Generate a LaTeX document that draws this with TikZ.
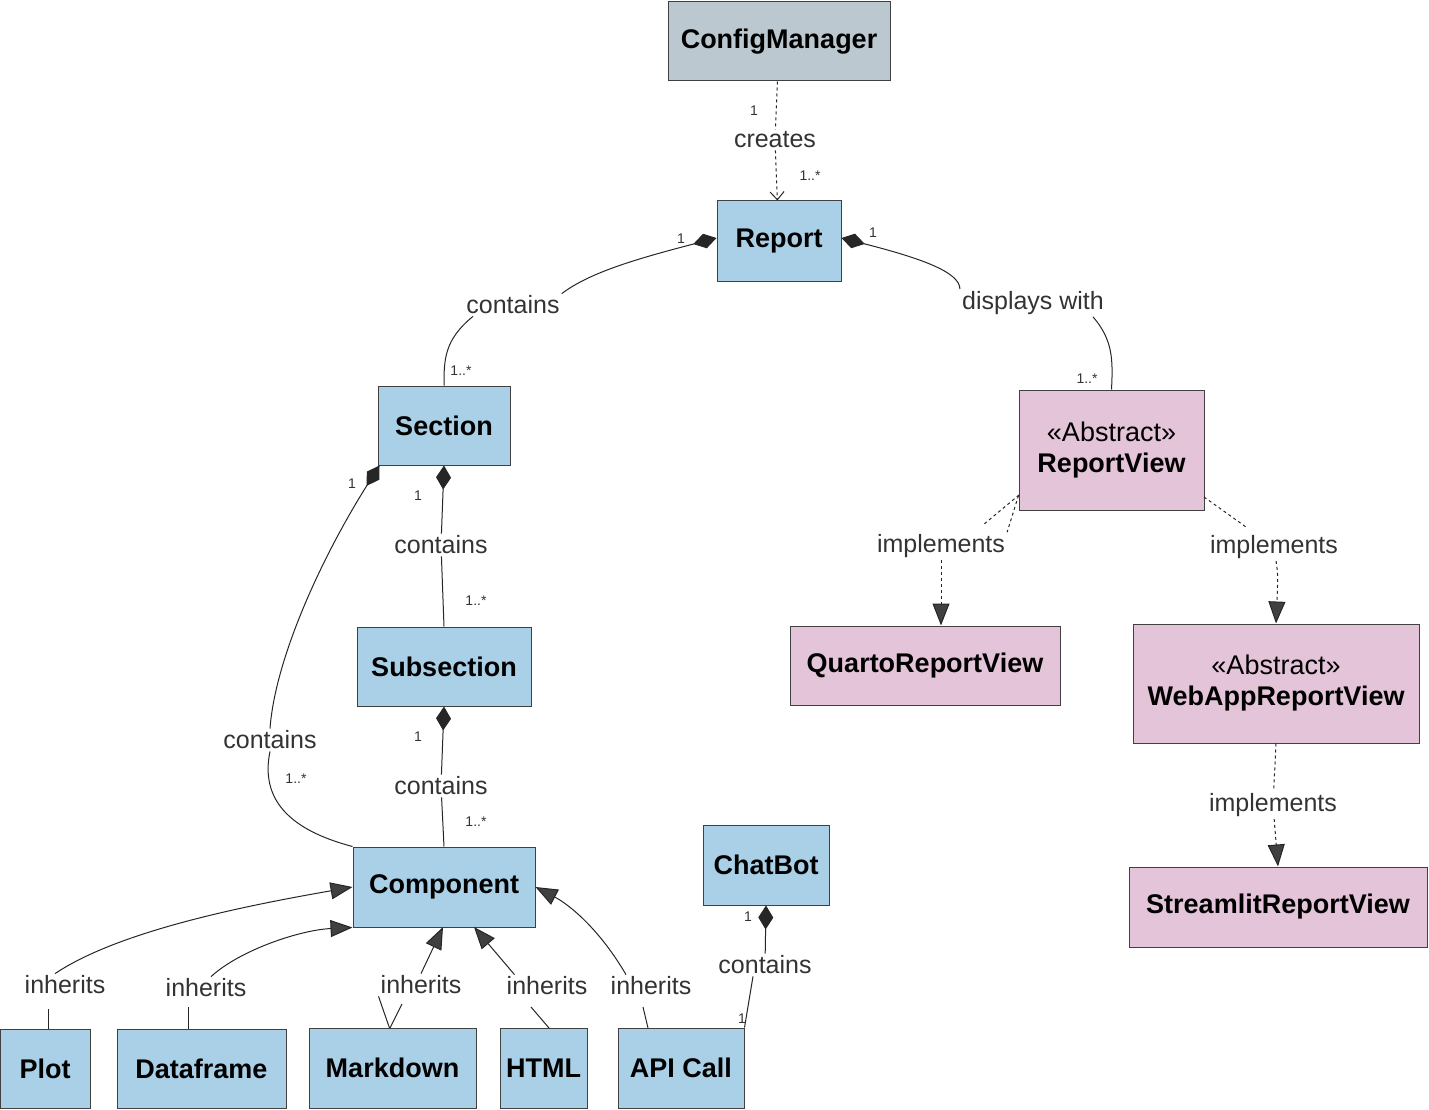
\documentclass[tikz,border=0pt]{standalone}
\usepackage{fontspec}
\setmainfont{Liberation Sans}
\usetikzlibrary{arrows.meta}
\begin{document}
\begin{tikzpicture}[x=1pt,y=-1pt,
  box/.style={draw=black!75, line width=1pt, inner sep=0pt, font=\bfseries\fontsize{27}{31}\selectfont, align=center},
  blue/.style={box, fill=blueA},
  pink/.style={box, fill=pinkA},
  lbl/.style={font=\fontsize{25}{28}\selectfont, text=black!80, inner sep=2pt},
  mult/.style={font=\fontsize{14}{16}\selectfont, text=black!80, inner sep=0pt},
  conn/.style={line width=1pt, black!85},
  comp/.style={conn, {Diamond[length=24pt,width=15pt]}-},
  inh/.style={conn, -{Triangle[length=22pt,width=17pt,fill=black!75]}},
  impl/.style={conn, dashed, -{Triangle[length=22pt,width=17pt,fill=black!75]}},
]
\definecolor{blueA}{HTML}{A9D0E6}
\definecolor{pinkA}{HTML}{E4C4D8}
\definecolor{grayA}{HTML}{BCC8CF}
\useasboundingbox (0,0) rectangle (1429,1110);
% boxes
\node[box, fill=grayA, minimum width=222, minimum height=79] (cm) at (779,41.5) {ConfigManager};
\node[blue, minimum width=124, minimum height=80] (rep) at (779,241) {Report};
\node[blue, minimum width=132, minimum height=79] (sec) at (444,425.5) {Section};
\node[blue, minimum width=174, minimum height=79] (sub) at (444,666.5) {Subsection};
\node[blue, minimum width=182, minimum height=80] (cmp) at (444,887) {Component};
\node[blue, minimum width=126, minimum height=80] (chat) at (766,865) {ChatBot};
\node[blue, minimum width=90, minimum height=79] (plot) at (45,1068.5) {Plot};
\node[blue, minimum width=169, minimum height=79] (df) at (201.5,1068.5) {Dataframe};
\node[blue, minimum width=167, minimum height=80] (md) at (392.5,1068) {Markdown};
\node[blue, minimum width=87, minimum height=80] (html) at (543.5,1068) {HTML};
\node[blue, minimum width=126, minimum height=80] (api) at (681,1068) {API Call};
\node[pink, minimum width=185, minimum height=120] (rv) at (1111.5,450) {{\mdseries <<Abstract>>}\\ReportView};
\node[pink, minimum width=270, minimum height=79] (qrv) at (925,665.5) {QuartoReportView};
\node[pink, minimum width=286, minimum height=119] (wrv) at (1276,683.5) {{\mdseries <<Abstract>>}\\WebAppReportView};
\node[pink, minimum width=298, minimum height=80] (srv) at (1278,907) {StreamlitReportView};
% labels
\node[lbl] (lcr) at (775,140) {creates};
\node[lbl] (lc1) at (513,305) {contains};
\node[lbl] (ldw) at (1033,303) {displays with};
\node[lbl] (lc2) at (441,545) {contains};
\node[lbl] (lc3) at (270,740) {contains};
\node[lbl] (lc4) at (441,786) {contains};
\node[lbl] (lc5) at (765,965) {contains};
\node[lbl] (li1) at (65,985) {inherits};
\node[lbl] (li2) at (206,988) {inherits};
\node[lbl] (li3) at (421,985) {inherits};
\node[lbl] (li4) at (547,986) {inherits};
\node[lbl] (li5) at (651,986) {inherits};
\node[lbl] (lm1) at (941,546) {implements};
\node[lbl] (lm2) at (1274,547) {implements};
\node[lbl] (lm3) at (1273,805) {implements};
% multiplicities
\node[mult] (m1) at (754,111) {1};
\node[mult] (m2) at (810,176) {1..*};
\node[mult] (m3) at (681,239) {1};
\node[mult] (m4) at (461,371) {1..*};
\node[mult] (m5) at (873,233) {1};
\node[mult] (m6) at (1087,379) {1..*};
\node[mult] (m7) at (418,496) {1};
\node[mult] (m8) at (476,601) {1..*};
\node[mult] (m9) at (352,484) {1};
\node[mult] (m10) at (296,779) {1..*};
\node[mult] (m11) at (418,737) {1};
\node[mult] (m12) at (476,822) {1..*};
\node[mult] (m13) at (748,917) {1};
\node[mult] (m14) at (742,1019) {1};
% connectors
\draw[conn, dashed] (cm) -- (lcr);
\draw[conn, dashed, -{Straight Barb[length=8pt,width=14pt]}] (lcr) -- (rep);
\draw[comp] (rep.west) ++(0,-3) coordinate (r1) (r1) .. controls (640,258) and (590,272) .. (lc1.north east);
\draw[conn] (lc1.south) ++(-40,0) coordinate (c1a) (c1a) .. controls (444,340) and (444,360) .. (sec.north);
\draw[comp] (rep.east) ++(0,-3) coordinate (r2) (r2) .. controls (920,258) and (960,272) .. (ldw.north west);
\draw[conn] (ldw.south) ++(60,0) coordinate (c2a) (c2a) .. controls (1113,340) and (1113,360) .. (rv.north);
\draw[comp] (sec.south) -- (lc2);
\draw[conn] (lc2) -- (sub.north);
\draw[comp] (sec.south west) ++(2,0) coordinate (s1) (s1) .. controls (320,560) and (275,660) .. (lc3.north);
\draw[conn] (lc3.south) .. controls (260,800) and (290,830) .. (cmp.north west);
\draw[comp] (sub.south) -- (lc4);
\draw[conn] (lc4) -- (cmp.north);
\draw[comp] (chat.south) -- (lc5);
\draw[conn] (lc5.south) ++(-12,0) coordinate (c5a) (c5a) -- (api.north east) ++(-22,0);
\draw[conn] (plot.north) ++(3,0) coordinate (p1) (p1) -- ++(0,-20) coordinate (p1b);
\draw[inh] (li1.north) ++(-10,0) coordinate (p1c) (p1c) .. controls (120,930) and (250,905) .. (cmp.west) ;
\draw[conn] (df.north) ++(-13,0) coordinate (p2) (p2) -- ++(0,-22);
\draw[inh] (li2.north) ++(5,0) coordinate (p2c) (p2c) .. controls (240,950) and (300,930) .. (cmp.south west);
\draw[conn] (md) ++(-3,-40) coordinate (p3) (p3) -- (li3.south west) ++(20,0);
\draw[conn] (390,1028) -- (402,1004);
\draw[inh] (li3.north) -- (443,927);
\draw[conn] (549,1028) -- (531,1007);
\draw[inh] (li4.north west) ++(10,0) coordinate (p4) (p4) -- (474,927);
\draw[conn] (648,1028) -- (643,1007);
\draw[inh] (li5.north) ++(-25,0) coordinate (p5) (p5) .. controls (600,930) and (570,905) .. (cmp.east);
\draw[conn, dashed] (rv.south west) ++(0,-15) coordinate (v1) (v1) -- (lm1.north east) ++(-40,0);
\draw[conn, dashed] (1019,495) -- (983,525);
\draw[impl] (lm1.south) -- (qrv.north -| lm1.south);
\draw[conn, dashed] (1204,497) -- (1246,527);
\draw[impl] (lm2.south) ++(2,0) coordinate (v2) (v2) .. controls (1278,575) .. (wrv.north);
\draw[conn, dashed] (wrv.south) -- (lm3);
\draw[impl] (lm3) -- (srv.north);
\end{tikzpicture}
\end{document}
